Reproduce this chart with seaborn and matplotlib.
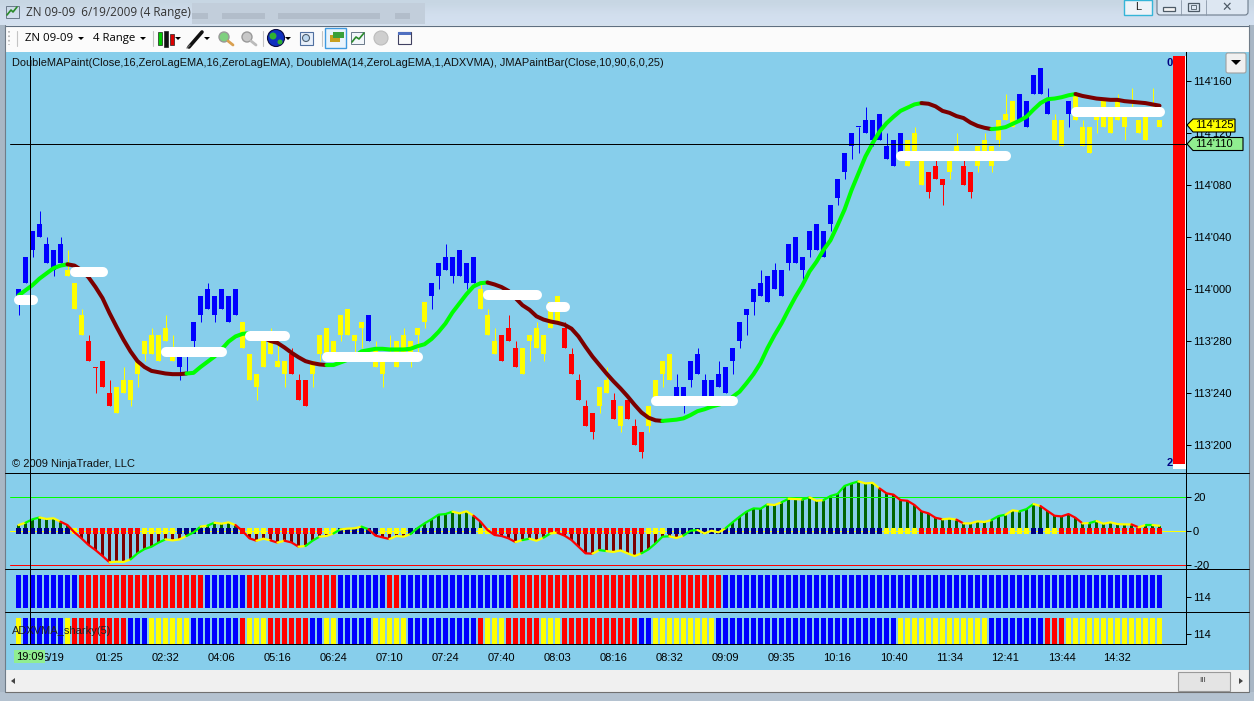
import matplotlib
matplotlib.use("Agg")
import matplotlib.pyplot as plt
import matplotlib.patches as mp
import numpy as np
import seaborn as sns

W, H = 1254, 701

# price in ticks above 113'200 (one tick = 5 on the axis)
body_top = [24,29,33,34,31,30,31,27,25,20,16,12,13,8,9,10,10,13,16,17,17,18,15,14,15,19,23,24,23,24,23,24,19,14,11,16,16,13,13,14,10,10,13,17,18,16,20,21,17,19,20,15,13,14,16,17,16,18,
            22,25,28,29,29,30,28,29,24,20,16,17,18,15,15,17,18,17,22,23,18,14,10,6,5,9,10,7,6,7,3,2,6,10,13,14,9,9,13,14,10,10,11,12,15,19,21,24,25,26,27,27,31,32,29,33,34,33,37,
            41,45,48,49,50,50,51,46,47,48,47,48,44,42,43,41,44,46,43,42,46,47,46,50,51,53,54,53,57,58,53,50,50,53,54,49,49,51,53,51,53,51,52,50,51,52,50]
body_bot = [22,25,30,32,28,27,28,26,21,17,13,11.85,9,6,5,8,7,11,14,14,13,16,13,12,14,16,20,21,20,21,19,20,15,10,9,12,14,12,11,11,7,6,11,14,14,13,17,17,16,18,16,12,11,13,12,14,14,17,
            19,23,26,27,26,26,25,25,21,17,14,13,16,12,11,16,15,14,18,19,15,11,7,3,2,6,8,4,3,4,0,-1,3,7,11,10,7,7,10,11,7,7,9,8,13,16,20,22,23,22,24,23,28,28,27,30,30,29,34,
            38,42,46,48.85,48,47,47,44,43,45,43,44,40,39,41,40,42,44,40,39,43,44,43,47,50,49,50,49,54,54,51,47,46,51,50,46,45,50,49,48,50,49,51,48,47,51,49]
wick_hi = [24,29,33,36,32,30,32,30,25,21,17,12,13,10,9,12,10,13,16,18,17,20,17,14,15,19,23,25,23,24,23,24,19,14,11,16,18,16,13,15,11,10,13,17,18,16,20,21,17,19,20,16,13,17,16,18,16,18,
           22,25,28,31,29,30,28,29,25,21,18,17,20,16,15,17,19,17,22,23,19,15,11,7,5,9,12,8,6,7,4,2,6,10,13,14,11,9,13,15,11,10,13,12,15,19,21,24,27,26,28,27,31,32,29,33,34,33,37,
           41,45,48,49,52,50,51,48,47,48,47,49,44,42,44,41,44,48,44,42,46,48,46,50,54,53,54,53,57,58,55,51,50,53,54,50,49,51,53,51,54,51,55,50,51,55,50]
wick_lo = [20,25,29,32,28,26,28,26,21,17,13,8,9,6,5,8,6,9,13,14,13,16,13,10,11,15,19,21,19,21,19,20,15,10,7,12,14,12,9,11,7,6,9,13,14,13,16,17,13,15,16,12,9,13,12,14,12,14,
           18,21,24,27,25,26,24,25,21,17,14,13,16,12,11,13,15,13,18,19,15,11,7,3,1,5,8,4,2,4,0,-2,2,7,9,10,7,5,9,11,7,7,9,8,11,15,17,20,23,22,24,23,27,28,25,29,30,29,33,
           37,41,44,45,48,46,47,44,43,45,43,44,40,38,41,37,41,44,40,38,42,44,42,46,50,49,50,49,54,54,51,47,46,49,50,46,45,48,49,48,50,47,51,48,47,51,49]
candle_runs = [("b",7),("y",3),("r",4),("y",9),("b",9),("y",7),("r",3),("y",8),("b",1),("y",7),
               ("y",1),("b",7),("y",3),("r",3),("y",6),("r",5),("y",2),("r",1),("y",1),("r",3),("y",4),("b",33),
               ("y",3),("r",3),("y",2),("r",2),("y",6),("b",5),("y",2),("b",1),("y",13)]

# moving average over the candles, same price units
ma_line = [23,23.8,24.6,25.6,26.4,27.2,27.6,27.8,27.6,26.9,25.8,24.3,22.6,20.3,18.2,16.2,14.4,12.9,12,11.4,11.2,11,10.9,10.9,11,11.1,12,12.8,13.6,14.7,15.9,16.7,17.1,17.2,17,16.5,16,15.7,15,14.2,13.5,12.9,12.6,12.4,12.3,12.3,12.7,13.1,13.6,14.4,14.6,14.8,14.8,14.7,14.7,14.7,14.8,15.2,
           15.5,16.3,17.4,18.7,20.4,21.8,23.2,24.4,24.9,25,24.7,24.3,23.7,22.6,21.5,20.8,19.8,19.3,19,18.8,18.5,17.9,16.7,15.1,13.6,12.3,11,9.8,8.7,7.5,6.2,5,4.2,3.8,3.7,3.8,3.9,4.1,4.6,5.2,5.5,5.9,6.2,6.5,7.4,8.2,9.5,10.9,12.6,14.9,16.9,18.7,20.8,22.8,24.6,26.7,28.2,30,31.5,
           33.8,36.2,39.2,41.8,44.4,46.4,48.2,49.5,50.5,51.4,51.9,52.4,52.6,52.5,52.1,51.4,51.1,50.6,50.3,49.6,49.1,48.8,48.6,48.7,48.9,49.4,49.9,50.5,51.6,52.6,53.2,53.3,53.5,53.8,54,53.7,53.5,53.3,53.2,53.1,53.1,52.9,52.8,52.7,52.6,52.4,52.2]
ma_runs = [("g",0,7),("m",7,24),("g",24,35),("m",35,44),("g",44,67),("m",67,92),("g",92,129),("m",129,139),("g",139,151),("m",151,163)]

# white ADXVMA plateaus
flat_start = [0,8,21,33,44,67,76,91,126,151]
flat_end = [2,12,29,38,57,74,78,102,141,163]
flat_level = [22.3,26.6,14.3,16.8,13.5,23.1,21.3,6.8,44.5,51.2]

osc = [3.3,4.7,6.7,7.8,6.9,7.3,5.3,3.3,-1,-4.5,-8.4,-11.4,-14.9,-18.6,-18.2,-18.4,-16.9,-13.3,-10.8,-9.4,-7,-5.1,-5.7,-5.1,-3.1,-1,2.4,3,4.7,4.1,4.9,3.3,-0.2,-4.5,-5.9,-4.7,-5.7,-7,-5.9,-6.9,-9.4,-9,-5.9,-3.5,-3.1,-1.6,0.8,1.2,1.4,2.4,0.8,-2.9,-3.9,-4.9,-3.1,-3.5,-2,1.5,
       4.3,6.7,9.4,9.8,11.2,10.2,11.4,8.8,5.3,0.4,-2.5,-3.1,-4.5,-6.7,-5.5,-4.7,-5.9,-4.1,-1.6,-1.2,-2.9,-5.5,-9.4,-13.3,-13.5,-11.4,-12,-12.5,-11.6,-13.3,-14.9,-13.3,-11,-7.5,-3.5,-3.3,-4.3,-2.9,0,0.4,-1.6,0,-1,1.4,4.9,8.2,11.2,13.1,12.9,15.5,15.1,16.7,18.8,18.6,18.4,19.6,17.6,18,20.4,
       21.6,26.3,27.8,29,27.8,28.2,24.9,22,21.2,18,17.6,15.1,11.4,10.2,7.6,6.7,7.1,6.5,4.3,4.3,5.5,5.1,6.3,8.6,9.4,12,11.4,12.7,15.7,14.5,11.6,8.8,8.4,9.8,7.6,4.3,4.5,5.7,4.1,4.9,3.9,3.7,3.7,2,3.3,3.3,2.9]
osc_runs = [("y",0,1),("g",1,3),("y",3,6),("r",6,13),("y",13,16),("g",16,21),("y",21,24),("g",24,26),("y",26,27),("g",27,28),("y",28,31),("r",31,34),("y",34,36),("r",36,37),("y",37,38),("r",38,40),("y",40,41),("g",41,43),("y",43,45),("g",45,46),("y",46,49),("g",49,50),("r",50,53),("y",53,56),
            ("g",56,62),("y",62,65),("r",65,71),("y",71,72),("g",72,73),("y",73,75),("g",75,76),("y",76,77),("r",77,82),("y",82,83),("g",83,84),("y",84,89),("g",89,93),("y",93,95),("g",95,97),("y",97,101),("g",101,107),("y",107,109),("g",109,110),("y",110,112),("g",112,113),("y",113,115),("g",115,120),
            ("y",120,123),("r",123,132),("y",132,134),("r",134,135),("y",135,139),("g",139,141),("y",141,143),("g",143,145),("y",145,146),("r",146,152),("y",152,153),("g",153,154),("y",154,159),("r",159,160),("y",160,161),("g",161,162),("y",162,163)]
zero_runs = [("n",8),("y",1),("r",9),("y",5),("n",9),("r",1),("y",3),("r",8),("y",2),("n",6),("y",4),("n",3),
             ("n",7),("y",2),("r",22),("y",3),("n",31),("y",5),("r",13),("y",3),("n",2),("y",2),("r",15)]

strip_a_runs = [("b",9),("r",18),("b",6),("r",13),("b",7),("r",2),("b",16),("r",30),("b",63)]
strip_b_runs = [("y",1),("b",6),("y",1),("r",8),("b",3),("y",6),("b",7),("r",1),("y",3),("r",6),("b",2),("y",2),("b",5),("y",5),("b",10),
                ("r",1),("y",3),("r",5),("y",3),("r",11),("b",2),("y",9),("b",26),("y",13),("b",8),("r",3),("y",14)]

price_ticks = [0,8,16,24,32,40,48,56]
price_labels = ["113'200","113'240","113'280","114'000","114'040","114'080","114'120","114'160"]
time_bars = [5,13,21,29,37,45,53,61,69,77,85,93,101,109,117,125,133,141,149,157]
time_labels = ["6/19","01:25","02:32","04:06","05:16","06:24","07:10","07:24","07:40","08:03","08:16","08:32","09:09","09:35","10:16","10:40","11:34","12:41","13:44","14:32"]

SKY = "#87CEEB"
COL = {"b":"#0000FF","r":"#FF0000","y":"#FFFF00","g":"#00FF00","m":"#7B0000","n":"#000080"}
X_LIM = ((10 - 18.5) / 7, (1186 - 18.5) / 7)
THIN = 0.72  # one pixel at 100 dpi

for name, vals in [("top", body_top), ("bot", body_bot), ("hi", wick_hi), ("lo", wick_lo), ("ma", ma_line), ("osc", osc)]:
    assert len(vals) == 164, (name, len(vals))


def expand(runs):
    out = []
    for c, n in runs:
        out += [c] * n
    assert len(out) == 164, len(out)
    return np.array(out)


def panel(y0, y1, ylim):
    ax = fig.add_axes([10 / W, 1 - y1 / H, 1176 / W, (y1 - y0) / H], facecolor="none")
    ax.set_xlim(*X_LIM)
    ax.set_ylim(*ylim)
    for s in ["top", "left", "bottom"]:
        ax.spines[s].set_visible(False)
    ax.spines["right"].set_linewidth(THIN)
    ax.spines["right"].set_color("black")
    ax.yaxis.tick_right()
    ax.tick_params(axis="y", length=3.6, width=THIN, labelsize=8, pad=1.5, colors="black")
    ax.set_xticks([])
    return ax


def bars(ax, idx, height, bottom, color, width):
    sns.barplot(x=idx, y=height, bottom=bottom, color=color, native_scale=True, width=width,
                saturation=1, errorbar=None, linewidth=0, ax=ax)


def draw_runs(ax, values, runs, lw, order):
    for c, a, b in runs:
        xs = np.arange(a, b + 1)
        sns.lineplot(x=xs, y=values[a:b + 1], color=COL[c], linewidth=lw, errorbar=None, ax=ax,
                     solid_capstyle="round", zorder=order)


def strip(y0, y1, ylim, bottom, runs):
    ax = panel(y0, y1, ylim)
    cols = expand(runs)
    for c in "bry":
        idx = np.where(cols == c)[0]
        if len(idx):
            bars(ax, idx, np.ones(len(idx)), bottom, COL[c], 5 / 7)
    ax.set_xlim(*X_LIM)
    ax.set_ylim(*ylim)
    ax.set_yticks([114])
    ax.set_yticklabels(["114"])
    ax.set_xlabel("")
    ax.set_ylabel("")
    return ax


sns.set_style("white")
plt.rcParams["font.family"] = ["Liberation Sans", "DejaVu Sans"]

fig = plt.figure(figsize=(W / 100, H / 100), dpi=100, facecolor="#dfe8f2")

# window chrome, pixel coordinates
bg = fig.add_axes([0, 0, 1, 1])
grad = np.array([[0.78, 0.84, 0.89], [0.82, 0.87, 0.93], [0.83, 0.88, 0.94]])[:, None, :]
bg.imshow(grad, extent=(0, W, 25, 0), aspect="auto", interpolation="bicubic")
bg.set_xlim(0, W)
bg.set_ylim(H, 0)
bg.axis("off")
# blurred tabs of the window behind
bg.add_patch(mp.Rectangle((192, 3), 233, 21, fc="#c2cedb", lw=0))
for tx0, tx1 in [(192, 208), (222, 265), (278, 380), (395, 410)]:
    bg.add_patch(mp.Rectangle((tx0, 13), tx1 - tx0, 6, fc="#b2bdca", lw=0))
bg.add_patch(mp.Rectangle((0, 25), 5, H, fc="#a9b7c5", lw=0))
bg.add_patch(mp.Rectangle((1249, 25), 5, H, fc="#a9b7c5", lw=0))
bg.add_patch(mp.Rectangle((0, 692), W, 9, fc="#b4c2d0", lw=0))
bg.add_patch(mp.Rectangle((5, 26), 1244, 26, fc="#fbfbfb", lw=0))
bg.add_patch(mp.Rectangle((5, 52), 1244, 618, fc=SKY, lw=0))
bg.add_patch(mp.Rectangle((5, 670), 1244, 22, fc="#f0f0f0", lw=0))
bg.plot([5, 1249], [25.5, 25.5], color="#5f6f80", lw=0.8)
bg.plot([5, 1249], [692, 692], color="#707070", lw=0.8)
bg.plot([4.5, 4.5], [25, 692], color="#707c88", lw=0.8)
bg.plot([1249, 1249], [25, 692], color="#707c88", lw=0.8)
bg.add_patch(mp.Rectangle((1178, 672), 52, 19, fc="#e4e4e4", ec="#9a9a9a", lw=0.8))
bg.text(1203, 681, "III", fontsize=6, ha="center", va="center", color="#444444")
bg.add_patch(mp.Polygon([[11, 681], [15, 678], [15, 684]], fc="#444444", lw=0))
bg.add_patch(mp.Polygon([[1243, 681], [1239, 678], [1239, 684]], fc="#444444", lw=0))

# title bar
bg.plot([7, 11, 13, 17], [15, 10, 12, 7], color="#2a8a2a", lw=1.2)
bg.add_patch(mp.Rectangle((6, 6), 13, 12, fc="none", ec="#6a7a8a", lw=0.7))
bg.text(26, 12.5, "ZN 09-09  6/19/2009 (4 Range)", fontsize=8.5, family="Open Sans", color="#333333", va="center")
bg.add_patch(mp.Rectangle((1124, 0), 28, 15, fc="#eef3f8", ec="#35b5d8", lw=1))
bg.text(1138, 7, "L", fontsize=8, ha="center", va="center", color="#222222")
bg.add_patch(mp.FancyBboxPatch((1157, -4), 91, 19, boxstyle="round,pad=0,rounding_size=3", fc="#dde7f2", ec="#6d7c8c", lw=0.8))
bg.plot([1181, 1181], [0, 15], color="#8a98a8", lw=0.6)
bg.plot([1206, 1206], [0, 15], color="#8a98a8", lw=0.6)
bg.add_patch(mp.Rectangle((1163, 7), 12, 4, fc="#f4f4f4", ec="#4d5a66", lw=0.9))
bg.add_patch(mp.Rectangle((1188, 3), 11, 8, fc="none", ec="#4d5a66", lw=0.9))
bg.add_patch(mp.Rectangle((1191, 5), 5, 4, fc="none", ec="#4d5a66", lw=0.6))
bg.text(1227, 7, "✕", fontsize=9, family="DejaVu Sans", ha="center", va="center", color="#4d5a66", fontweight="bold")

# toolbar
bg.plot([9, 9], [31, 45], color="#b0b0b0", lw=1.2, ls=":")
for sx in [17, 153, 263, 322]:
    bg.plot([sx, sx], [31, 46], color="#c4c4c4", lw=0.8)
bg.text(25, 38.5, "ZN 09-09", fontsize=8.2, family="Open Sans", va="center", color="black")
bg.text(93, 38.5, "4 Range", fontsize=8.2, family="Open Sans", va="center", color="black")
for ax_x in [81, 143, 178, 207, 288]:
    bg.add_patch(mp.Polygon([[ax_x - 3, 37], [ax_x + 3, 37], [ax_x, 40]], fc="black", lw=0))
for cx, y_top, y_bot, c in [(160, 32, 45, "#00cc00"), (166, 31, 47, "#111111"), (172, 34, 45, "#dd0000")]:
    bg.add_patch(mp.Rectangle((cx - 2, y_top), 4, y_bot - y_top, fc=c, ec="#222222", lw=0.5))
bg.plot([189, 202], [47, 32], color="#111111", lw=2.6)
bg.plot([187, 190], [48, 45], color="#666666", lw=1)
for mx, c, hc in [(224, "#7fd07f", "#d9a050"), (247, "#c8c8c8", "#bbbbbb")]:
    bg.add_patch(mp.Circle((mx, 37), 5, fc=c, ec="#999999", lw=1))
    bg.plot([mx + 4, mx + 9], [41, 45], color=hc, lw=2)
bg.add_patch(mp.Circle((276, 38), 8.5, fc="#1030c0", ec="#0a0a40", lw=0.8))
bg.add_patch(mp.Circle((273, 36), 3.5, fc="#30b030", lw=0))
bg.add_patch(mp.Circle((280, 42), 2.5, fc="#30b030", lw=0))
bg.add_patch(mp.Rectangle((300, 32), 13, 13, fc="#e8f0fa", ec="#5070a0", lw=0.8))
bg.add_patch(mp.Circle((306, 38), 3.5, fc="#bcd8f0", ec="#506070", lw=0.8))
bg.add_patch(mp.Rectangle((325, 27.5), 21, 20.5, fc="#eaf4fc", ec="#3f9ae0", lw=1))
bg.add_patch(mp.Rectangle((330, 35), 10, 7, fc="#c8a020", lw=0))
bg.add_patch(mp.Rectangle((333, 32), 11, 6, fc="#3aa03a", lw=0))
bg.add_patch(mp.Rectangle((351, 32), 13, 12, fc="#f2f6fa", ec="#6a7a8a", lw=0.7))
bg.plot([352, 356, 359, 364], [42, 37, 39, 33], color="#2a8a2a", lw=1.2)
bg.add_patch(mp.Circle((381, 38), 7, fc="#cfcfcf", ec="#bcbcbc", lw=0.8))
bg.add_patch(mp.Rectangle((398, 32), 13, 12, fc="#fafafa", ec="#404060", lw=0.8))
bg.add_patch(mp.Rectangle((398, 32), 13, 3, fc="#5070c0", lw=0))

# price panel
price_lim = ((445 - 473) / 6.5, (445 - 52) / 6.5)
ax1 = panel(52, 473, price_lim)
x_all = np.arange(164)
cols = expand(candle_runs)
tops = np.array(body_top, float)
bots = np.array(body_bot, float)
for c in "ybr":
    sel = cols == c
    ax1.vlines(x_all[sel], np.array(wick_lo)[sel], np.array(wick_hi)[sel], color=COL[c], lw=THIN, zorder=1)
    bars(ax1, x_all[sel], tops[sel] - bots[sel], bots[sel], COL[c], 5 / 7)
draw_runs(ax1, np.array(ma_line), ma_runs, 2.9, 3)
for a, b, lv in zip(flat_start, flat_end, flat_level):
    sns.lineplot(x=list(range(a, b + 1)), y=[lv] * (b - a + 1), color="white", linewidth=7.2,
                 solid_capstyle="round", errorbar=None, zorder=4, ax=ax1)
ax1.set_xlim(*X_LIM)
ax1.set_ylim(*price_lim)
ax1.set_yticks(price_ticks)
ax1.set_yticklabels(price_labels)
ax1.set_xlabel("")
ax1.set_ylabel("")
ax1.text(2 / 1176, (473 - 63) / 421, "DoubleMAPaint(Close,16,ZeroLagEMA,16,ZeroLagEMA), DoubleMA(14,ZeroLagEMA,1,ADXVMA), JMAPaintBar(Close,10,90,6,0,25)",
         transform=ax1.transAxes, fontsize=7.93, va="center", color="#111111")
ax1.text(2 / 1176, 9 / 421, "© 2009 NinjaTrader, LLC", transform=ax1.transAxes, fontsize=8, va="center", color="#111111")

# oscillator panel
osc_lim = ((530.7 - 569) / 1.7, (530.7 - 473) / 1.7)
ax2 = panel(473, 569, osc_lim)
ax2.axhline(20, color=COL["g"], lw=THIN, zorder=2)
ax2.axhline(-20, color=COL["r"], lw=THIN, zorder=2)
ax2.axhline(0, color=COL["y"], lw=THIN, zorder=0.5)
osc_arr = np.array(osc)
pos = osc_arr > 0
bars(ax2, x_all[pos], osc_arr[pos], 0, "#006400", 3 / 7)
bars(ax2, x_all[~pos], osc_arr[~pos], 0, "#7B0000", 3 / 7)
zero_cols = expand(zero_runs)
for c in "nry":
    idx = np.where(zero_cols == c)[0]
    bars(ax2, idx, np.full(len(idx), 3.5), -1.75, COL[c], 5 / 7)
draw_runs(ax2, osc_arr, osc_runs, 1.6, 5)
ax2.set_xlim(*X_LIM)
ax2.set_ylim(*osc_lim)
ax2.set_yticks([20, 0, -20])
ax2.set_yticklabels(["20", "0", "-20"])
ax2.set_xlabel("")
ax2.set_ylabel("")

# colour strips
strip(569, 612, (113.545, 114.85), 113.67, strip_a_runs)
ax4 = strip(612, 644, (113.615, 114.846), 113.615, strip_b_runs)
ax4.text(2 / 1176, 0.40, "ADXVMA_sharky(5)", transform=ax4.transAxes, fontsize=8, va="center", color="#222222")
ax4.spines["bottom"].set_visible(True)
ax4.spines["bottom"].set_color("black")
ax4.spines["bottom"].set_linewidth(THIN)
ax4.set_xticks([0] + time_bars)
ax4.set_xticklabels([""] + time_labels)
ax4.tick_params(axis="x", length=3.6, width=THIN, labelsize=8, pad=2.6, colors="black")

# things on top of every panel
over = fig.add_axes([0, 0, 1, 1], facecolor="none")
over.set_xlim(0, W)
over.set_ylim(H, 0)
over.axis("off")
for y in [473, 569, 612]:
    over.plot([5, 1249], [y, y], color="black", lw=THIN)
over.plot([10, 1186], [143.5, 143.5], color="black", lw=THIN)
over.plot([29.5, 29.5], [56, 644], color="black", lw=THIN)
over.add_patch(mp.Rectangle((1173, 56), 11.5, 408, fc="#FF0000", lw=0))
over.add_patch(mp.Rectangle((1173, 464), 11.5, 5, fc="white", lw=0))
over.add_patch(mp.Rectangle((1184.5, 56), 1.5, 413, fc="white", lw=0))
over.plot([1186, 1186], [52, 473], color="black", lw=THIN)
over.text(1169.5, 62.5, "0", fontsize=8, color="#000080", ha="center", va="center", fontweight="bold")
over.text(1169.5, 463.5, "2", fontsize=8, color="#000080", ha="center", va="center", fontweight="bold")
over.add_patch(mp.Polygon([[1187, 125], [1193, 119], [1235, 119], [1235, 132], [1193, 132]], fc="#FFFF00", ec="black", lw=0.8))
over.text(1195, 125.5, "114'125", fontsize=8, va="center", color="black")
over.add_patch(mp.Polygon([[1187, 144], [1193, 137.5], [1243, 137.5], [1243, 150.5], [1193, 150.5]], fc="#90EE90", ec="black", lw=0.8))
over.text(1195, 144, "114'110", fontsize=8, va="center", color="black")
over.add_patch(mp.Rectangle((14, 650), 31, 13, fc="#90EE90", lw=0))
over.text(29.5, 656.5, "19:09", fontsize=8, ha="center", va="center", color="black")
over.add_patch(mp.FancyBboxPatch((1226, 53), 20, 20, boxstyle="round,pad=0,rounding_size=2", fc="#f0f0f0", ec="#a0a0a0", lw=0.8))
over.add_patch(mp.Polygon([[1231, 60], [1241, 60], [1236, 65]], fc="black", lw=0))

fig.savefig("out.png", dpi=100, facecolor=fig.get_facecolor())
